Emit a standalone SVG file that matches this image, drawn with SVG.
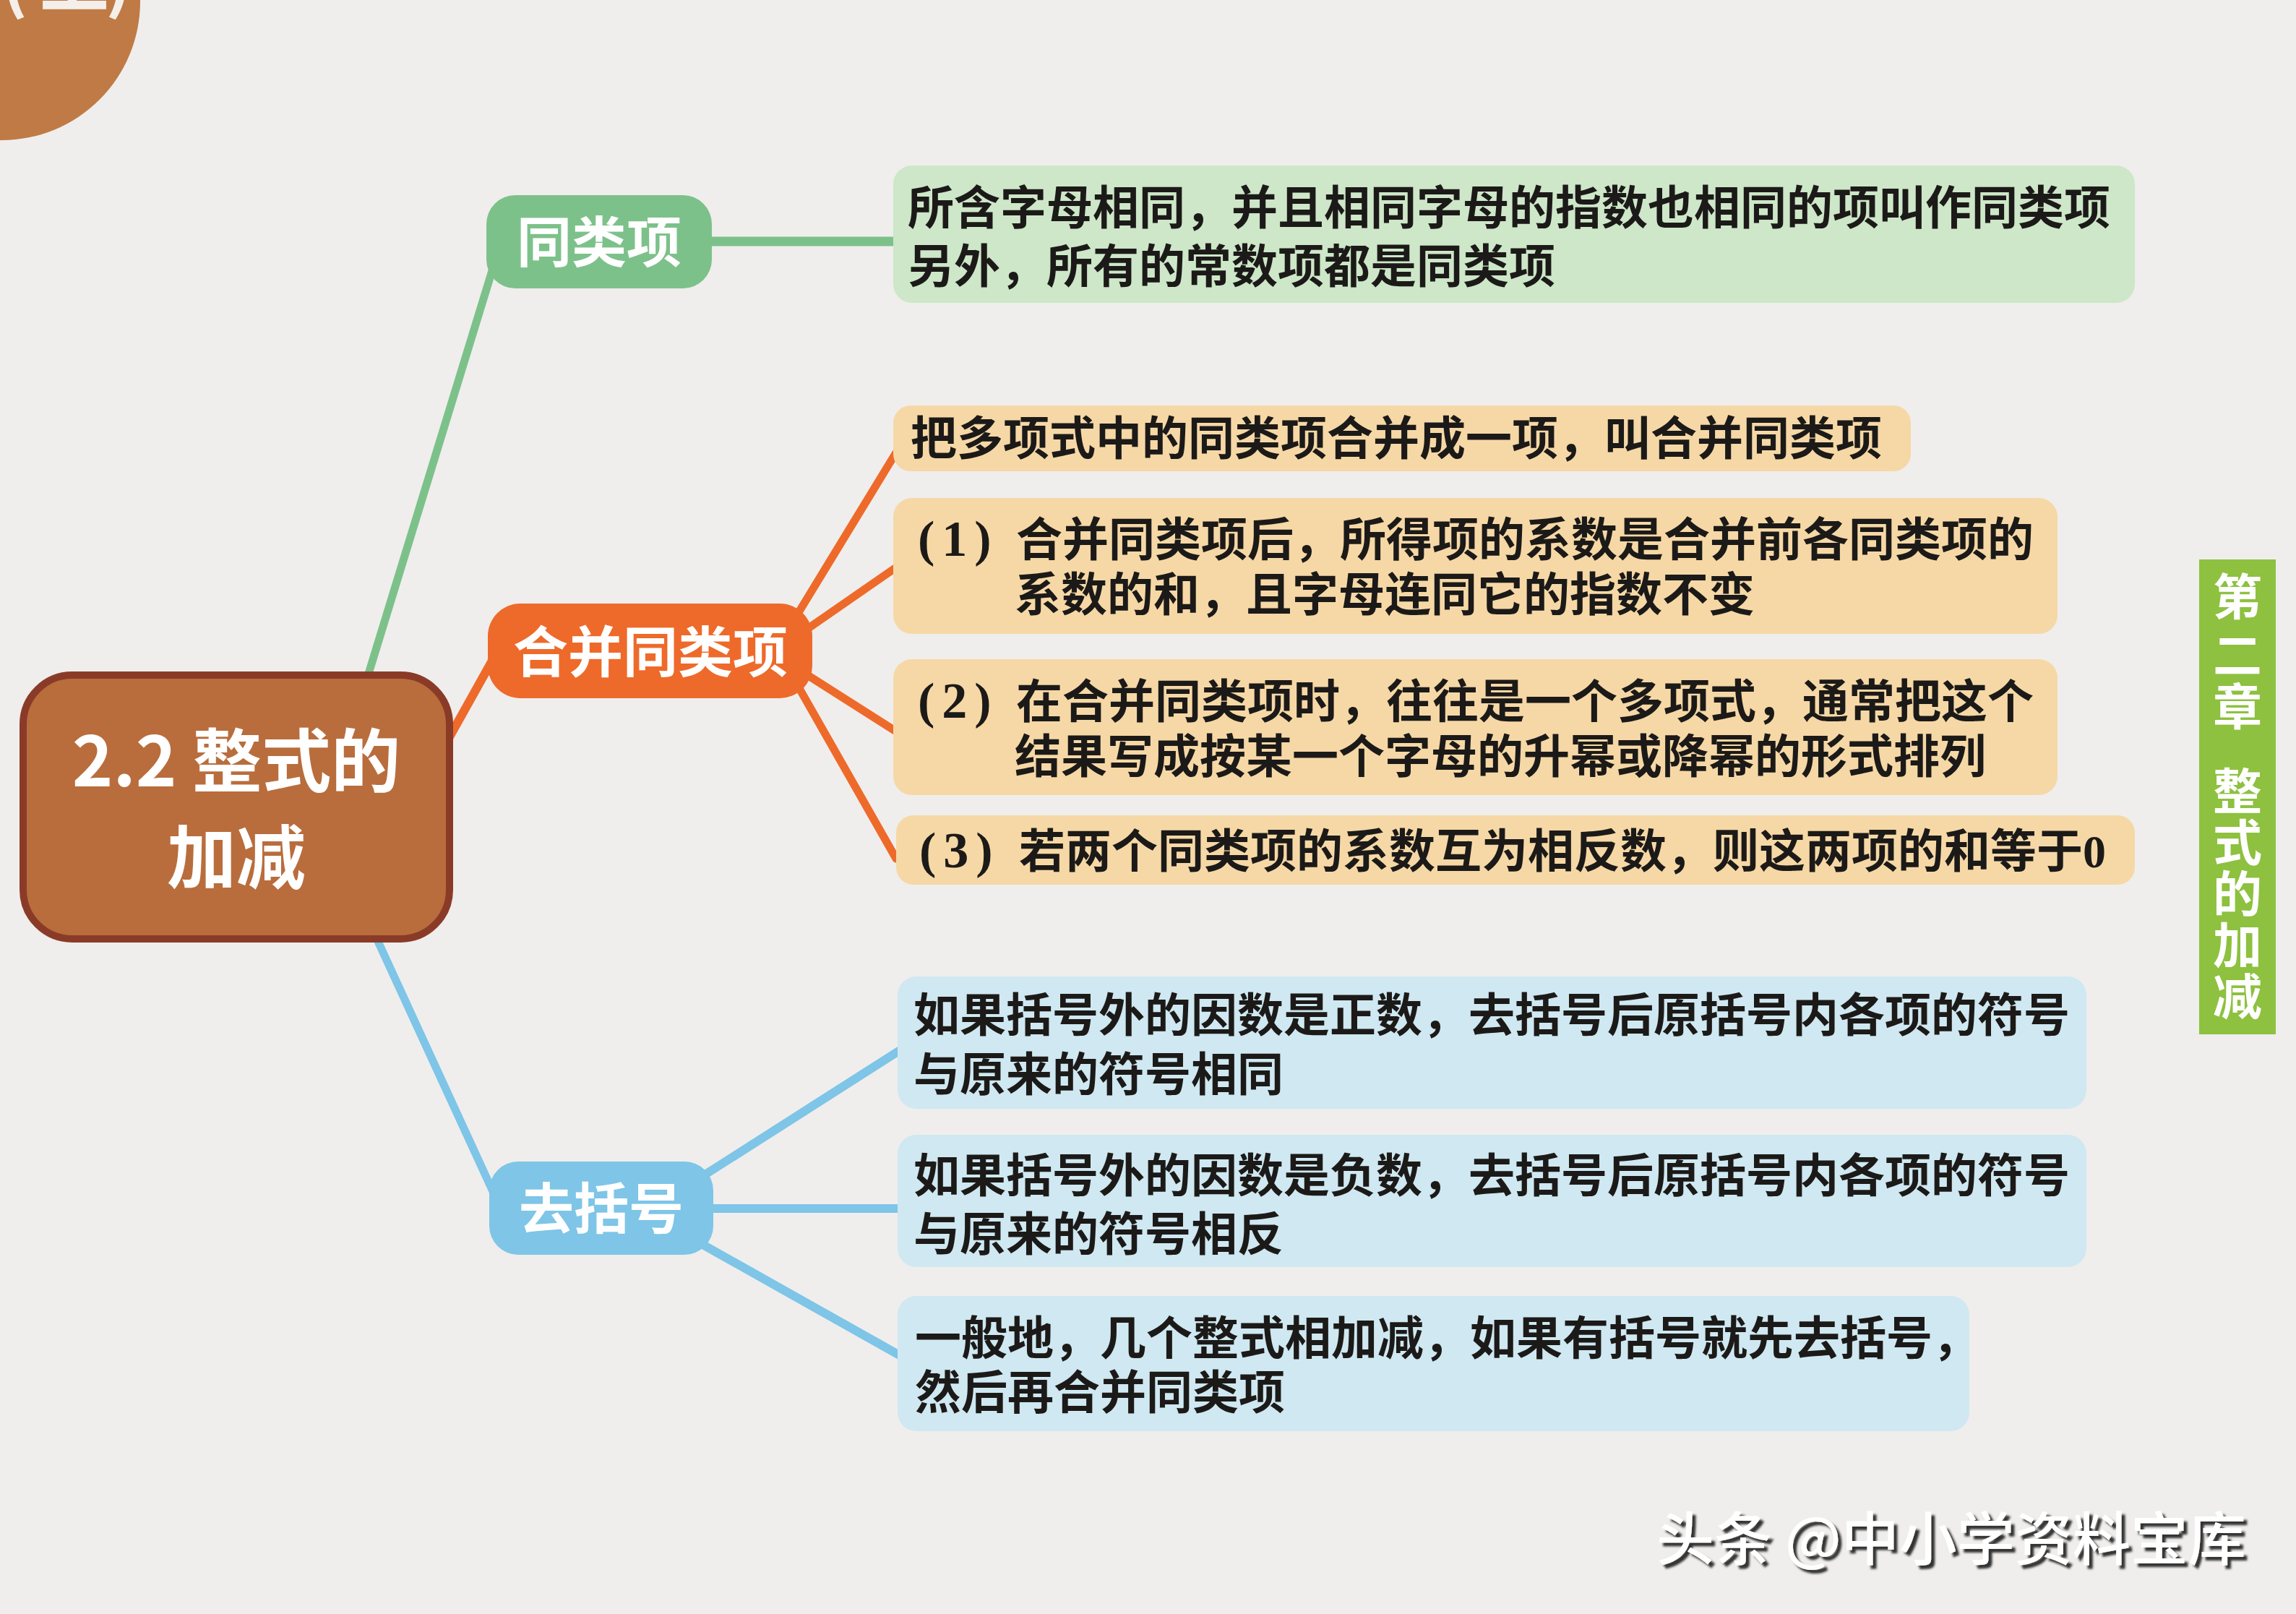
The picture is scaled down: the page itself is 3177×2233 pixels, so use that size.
<svg xmlns="http://www.w3.org/2000/svg" width="3177" height="2233" viewBox="0 0 3177 2233">
<defs>
<style>
.bg{fill:#EFEEEC}
.cat{font-family:"Noto Sans CJK SC","Noto Sans",sans-serif;font-weight:700;fill:#FFFFFF;text-anchor:middle}
.vert{font-family:"Noto Sans CJK SC","Noto Sans",sans-serif;font-weight:700;fill:#FFFFFF;writing-mode:vertical-rl;font-size:68px}
.txt{font-family:"Liberation Serif","Noto Sans CJK SC",serif;font-weight:700;font-size:64px;fill:#1C1A18}
.par{font-size:70px;letter-spacing:10px}
.gline{stroke:#7DC18A;fill:none;stroke-linecap:round}
.oline{stroke:#EE6A2A;fill:none;stroke-linecap:round}
.bline{stroke:#7EC5E7;fill:none;stroke-linecap:round}
.gbox{fill:#CDE7C8}
.obox{fill:#F6D8A6}
.bbox{fill:#CFE8F1}
</style>
<filter id="shadow" x="-5%" y="-20%" width="110%" height="140%">
<feDropShadow dx="5" dy="5" stdDeviation="1.5" flood-color="#1a1a1a" flood-opacity="0.9"/>
</filter>
</defs>
<rect class="bg" x="0" y="0" width="3177" height="2233"/>

<g id="corner-badge">
<circle cx="2" cy="2" r="192" fill="#C07A45"/>
<text x="2" y="8" font-family="Noto Sans CJK SC,sans-serif" font-weight="700" font-size="96" fill="#F4EFEA">(</text>
<text x="55" y="8" font-family="Noto Sans CJK SC,sans-serif" font-weight="700" font-size="96" fill="#F4EFEA">上</text>
<text x="146" y="8" font-family="Noto Sans CJK SC,sans-serif" font-weight="700" font-size="96" fill="#F4EFEA">)</text>
</g>

<g id="connectors">
<line class="gline" x1="506" y1="945" x2="690" y2="345" stroke-width="11"/>
<line class="gline" x1="970" y1="334" x2="1245" y2="334" stroke-width="13"/>
<line class="oline" x1="605" y1="1050" x2="700" y2="880" stroke-width="12"/>
<line class="oline" x1="1090" y1="872" x2="1240" y2="626" stroke-width="11"/>
<line class="oline" x1="1100" y1="882" x2="1240" y2="785" stroke-width="11"/>
<line class="oline" x1="1100" y1="923" x2="1240" y2="1012" stroke-width="11"/>
<line class="oline" x1="1095" y1="933" x2="1240" y2="1188" stroke-width="11"/>
<line class="bline" x1="515" y1="1285" x2="691" y2="1668" stroke-width="11"/>
<line class="bline" x1="960" y1="1635" x2="1250" y2="1450" stroke-width="12"/>
<line class="bline" x1="970" y1="1672" x2="1250" y2="1672" stroke-width="12"/>
<line class="bline" x1="960" y1="1715" x2="1250" y2="1878" stroke-width="12"/>
</g>

<g id="root">
<rect x="32" y="934" width="590" height="365" rx="68" fill="#B96D3C" stroke="#8A3B28" stroke-width="10"/>
<text class="cat" x="327" y="1088" font-size="96">2.2 整式的</text>
<text class="cat" x="327" y="1221" font-size="96">加减</text>
</g>

<g id="node-tongleixiang">
<rect x="673" y="270" width="312" height="129" rx="40" fill="#7DC18A"/>
<text class="cat" x="829" y="363" font-size="76">同类项</text>
</g>

<g id="node-hebing">
<rect x="675" y="835" width="449" height="131" rx="45" fill="#EE6A2A"/>
<text class="cat" x="900" y="930" font-size="76">合并同类项</text>
</g>

<g id="node-qukuohao">
<rect x="677" y="1607" width="310" height="129" rx="40" fill="#7EC5E7"/>
<text class="cat" x="832" y="1700" font-size="76">去括号</text>
</g>

<g id="box-g1">
<rect class="gbox" x="1236" y="229" width="1718" height="190" rx="26"/>
<text class="txt" x="1256" y="310">所含字母相同，并且相同字母的指数也相同的项叫作同类项</text>
<text class="txt" x="1256" y="391">另外，所有的常数项都是同类项</text>
</g>

<g id="box-o1">
<rect class="obox" x="1236" y="561" width="1408" height="91" rx="24"/>
<text class="txt" x="1260" y="629">把多项式中的同类项合并成一项，叫合并同类项</text>
</g>

<g id="box-o2">
<rect class="obox" x="1236" y="689" width="1611" height="188" rx="26"/>
<text class="txt" y="769"><tspan class="par" x="1270">(1)</tspan><tspan x="1406">合并同类项后，所得项的系数是合并前各同类项的</tspan></text>
<text class="txt" x="1404" y="845">系数的和，且字母连同它的指数不变</text>
</g>

<g id="box-o3">
<rect class="obox" x="1236" y="912" width="1611" height="188" rx="26"/>
<text class="txt" y="993"><tspan class="par" x="1270">(2)</tspan><tspan x="1406">在合并同类项时，往往是一个多项式，通常把这个</tspan></text>
<text class="txt" x="1404" y="1069">结果写成按某一个字母的升幂或降幂的形式排列</text>
</g>

<g id="box-o4">
<rect class="obox" x="1240" y="1128" width="1714" height="96" rx="24"/>
<text class="txt" y="1200"><tspan class="par" x="1272">(3)</tspan><tspan x="1410">若两个同类项的系数互为相反数，则这两项的和等于0</tspan></text>
</g>

<g id="box-b1">
<rect class="bbox" x="1242" y="1351" width="1645" height="183" rx="26"/>
<text class="txt" x="1264" y="1427">如果括号外的因数是正数，去括号后原括号内各项的符号</text>
<text class="txt" x="1264" y="1509">与原来的符号相同</text>
</g>

<g id="box-b2">
<rect class="bbox" x="1242" y="1570" width="1645" height="183" rx="26"/>
<text class="txt" x="1264" y="1649">如果括号外的因数是负数，去括号后原括号内各项的符号</text>
<text class="txt" x="1264" y="1730">与原来的符号相反</text>
</g>

<g id="box-b3">
<rect class="bbox" x="1242" y="1793" width="1483" height="187" rx="26"/>
<text class="txt" x="1266" y="1874">一般地，几个整式相加减，如果有括号就先去括号，</text>
<text class="txt" x="1266" y="1949">然后再合并同类项</text>
</g>

<g id="chapter-tab">
<rect x="3043" y="774" width="106" height="657" fill="#8DC13F"/>
<text class="vert"><tspan x="3096" y="791">第</tspan><tspan x="3096" y="872">二</tspan><tspan x="3096" y="943">章</tspan><tspan x="3096" y="1060">整</tspan><tspan x="3096" y="1131">式</tspan><tspan x="3096" y="1202">的</tspan><tspan x="3096" y="1273">加</tspan><tspan x="3096" y="1344">减</tspan></text>
</g>

<g id="watermark">
<text x="2292" y="2158" font-family="Noto Sans CJK SC,sans-serif" font-weight="500" font-size="80" fill="#FFFFFF" filter="url(#shadow)">头条 @中小学资料宝库</text>
</g>
</svg>
